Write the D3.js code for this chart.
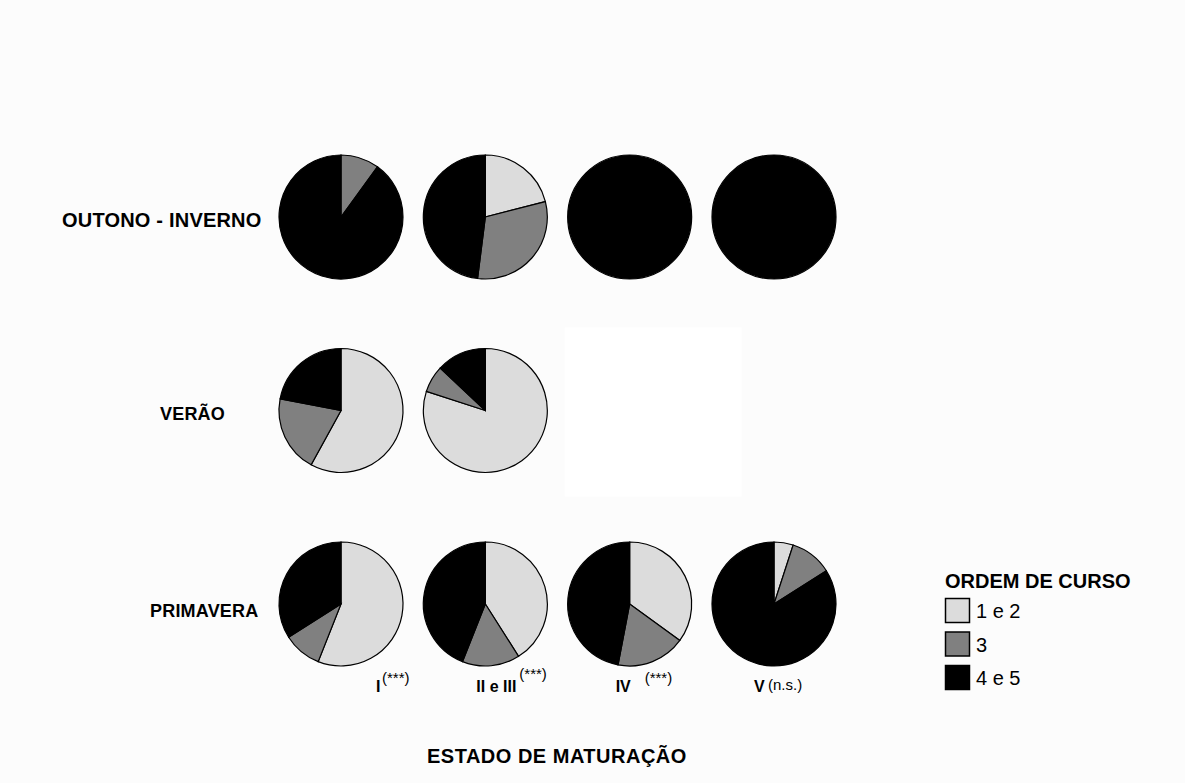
<!DOCTYPE html>
<html>
<head>
<meta charset="utf-8">
<script src="https://cdn.jsdelivr.net/npm/d3@7"></script>
<style>
  body { margin: 0; background: #fcfcfc; }
  text { font-family: "Liberation Sans", Arial, sans-serif; }
</style>
</head>
<body>
<div id="chart"></div>
<script>
// data (percent per ordem de curso)
var seasons = ["OUTONO - INVERNO", "VERÃO", "PRIMAVERA"];
var stages = ["I", "II e III", "IV", "V"];
var stageSig = ["(***)", "(***)", "(***)", "(n.s.)"];
var classes = ["1 e 2", "3", "4 e 5"];
var outonoInverno = [[0, 10, 90], [21, 31, 48], [0, 0, 100], [0, 0, 100]];
var verao = [[58, 20, 22], [80, 7, 13], null, null];
var primavera = [[56, 10, 34], [41, 15, 44], [35, 18, 47], [5, 11, 84]];
var colors = ["#dcdcdc", "#808080", "#000000"];

var seasonData = [outonoInverno, verao, primavera];

var svg = d3.select("#chart").append("svg")
            .attr("width", 1185)
            .attr("height", 783);

svg.append("rect").attr("width", 1185).attr("height", 783).attr("fill", "#fcfcfc");

var x = d3.scalePoint().domain(stages).range([341, 774]);
var y = d3.scalePoint().domain(seasons).range([217, 604]);
var color = d3.scaleOrdinal().domain(classes).range(colors);

// blank patch where verão IV / V would be
svg.append("rect")
   .attr("x", x("IV") - 65).attr("y", y("VERÃO") - 83)
   .attr("width", 177).attr("height", 169)
   .attr("fill", "#ffffff");

var pie = d3.pie().sort(null).value(function(d) { return d; });
var arc = d3.arc().innerRadius(0).outerRadius(62);

seasonData.forEach(function(rows, si) {
  rows.forEach(function(vals, ci) {
    if (!vals) return;
    var g = svg.append("g")
               .attr("transform", "translate(" + x(stages[ci]) + "," + y(seasons[si]) + ")");
    var slices = pie(vals).map(function(d, i) { d.cls = classes[i]; return d; })
                          .filter(function(d) { return d.value > 0; });
    g.selectAll("path")
     .data(slices)
     .enter()
     .append("path")
     .attr("d", arc)
     .attr("fill", function(d) { return color(d.cls); })
     .attr("stroke", "#000")
     .attr("stroke-width", 1.2);
  });
});

// row labels
var rowLabelPos = [[62, 227, 20], [160, 420, 18], [150, 617, 18]];
svg.selectAll(".rowlab")
   .data(seasons)
   .enter()
   .append("text")
   .attr("x", function(d, i) { return rowLabelPos[i][0]; })
   .attr("y", function(d, i) { return rowLabelPos[i][1]; })
   .style("font-size", function(d, i) { return rowLabelPos[i][2] + "px"; })
   .style("font-weight", "bold")
   .style("letter-spacing", "0.2px")
   .text(function(d) { return d; });

// stage labels under the bottom row
var labBase = 692;
var labDx = [35, -9, -14, -20];
var supDx = [41, 34, 15, -6];
var supDy = [-9, -13, -9, -2];
svg.selectAll(".stage")
   .data(stages)
   .enter()
   .append("text")
   .attr("x", function(d, i) { return x(d) + labDx[i]; })
   .attr("y", labBase)
   .style("font-size", "16px")
   .style("font-weight", "bold")
   .text(function(d) { return d; });

svg.selectAll(".sig")
   .data(stageSig)
   .enter()
   .append("text")
   .attr("x", function(d, i) { return x(stages[i]) + supDx[i]; })
   .attr("y", function(d, i) { return labBase + supDy[i]; })
   .style("font-size", "15px")
   .text(function(d) { return d; });

svg.append("text")
   .attr("x", 427).attr("y", 763)
   .style("font-size", "20px")
   .style("font-weight", "bold")
   .style("letter-spacing", "0.5px")
   .text("ESTADO DE MATURAÇÃO");

// legend
var legend = svg.append("g").attr("transform", "translate(945,588)");
legend.append("text")
      .style("font-size", "20px")
      .style("font-weight", "bold")
      .text("ORDEM DE CURSO");
var items = legend.selectAll(".item")
                  .data(classes)
                  .enter()
                  .append("g")
                  .attr("transform", function(d, i) { return "translate(0," + (10 + i * 33.5) + ")"; });
items.append("rect")
     .attr("x", 0.5).attr("y", 0.5)
     .attr("width", 24).attr("height", 24)
     .attr("fill", function(d) { return color(d); })
     .attr("stroke", "#000")
     .attr("stroke-width", 1.5);
items.append("text")
     .attr("x", 31).attr("y", 20)
     .style("font-size", "20px")
     .text(function(d) { return d; });
</script>
</body>
</html>
